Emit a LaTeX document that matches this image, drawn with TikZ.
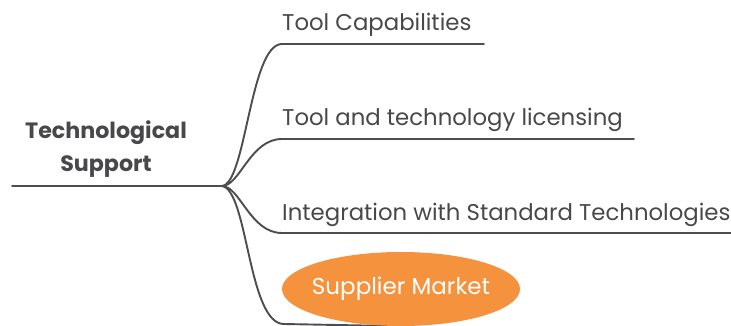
\documentclass[tikz,border=0pt]{standalone}
\usepackage{fontspec}
\setmainfont{Poppins}
\usetikzlibrary{shapes.geometric,backgrounds}
\definecolor{linegray}{HTML}{4D4D4F}
\definecolor{textgray}{HTML}{48484A}
\definecolor{marketorange}{HTML}{F5923E}
\tikzset{
  branchtext/.style={anchor=base west, inner sep=0pt, text=textgray, font=\fontsize{22.8}{26}\selectfont},
  roottext/.style={align=center, inner sep=0pt, text=textgray, font=\fontsize{22.2}{33}\selectfont\bfseries},
  link/.style={draw=linegray, line width=1.9pt, line cap=round},
  market/.style={ellipse, fill=marketorange, text=white, minimum width=238pt, minimum height=74pt, inner xsep=-12pt, inner ysep=0pt, font=\fontsize{23}{26}\selectfont}
}
\begin{document}
\begin{tikzpicture}[x=1pt,y=-1pt]
			\useasboundingbox (0,0) rectangle (731,326);
			\def \pad{ 0 };
			\def \lift{ -13 };
			% root
			\coordinate (start) at (12,186);
			\coordinate (hub) at (222,186);
			\node[roottext] (root) at (106,149) {Technological\\Support};
			% branch line ends
			\coordinate (b1) at (282,44);
			\coordinate (e1) at (484,44);
			\coordinate (b2) at (282,139);
			\coordinate (e2) at (634,139);
			\coordinate (b3) at (282,233);
			\coordinate (e3) at (731,233);
			\coordinate (b4) at (284,324);
			% branch texts
			\node[branchtext] (cap) at ([shift={(\pad,\lift)}]b1) {Tool Capabilities};
			\node[branchtext] (lic) at ([shift={(\pad,\lift)}]b2) {Tool and technology licensing};
			\node[branchtext] (std) at ([shift={(\pad,\lift)}]b3) {Integration with Standard Technologies};
			\node[market] (sm) at (401,289) {Supplier Market};
			% connectors
			\draw[link] (start) -- (hub);
			\draw[link] (hub) .. controls (246,184) and (250,44) .. (b1) -- (e1);
			\draw[link] (hub) .. controls (240,186) and (250,139) .. (b2) -- (e2);
			\draw[link] (hub) .. controls (240,186) and (250,233) .. (b3) -- (e3);
			\begin{pgfonlayer}{background}
			\draw[link] (hub) .. controls (248,190) and (248,324) .. (b4) -- (sm.south);
			\end{pgfonlayer}
		\end{tikzpicture}
\end{document}
